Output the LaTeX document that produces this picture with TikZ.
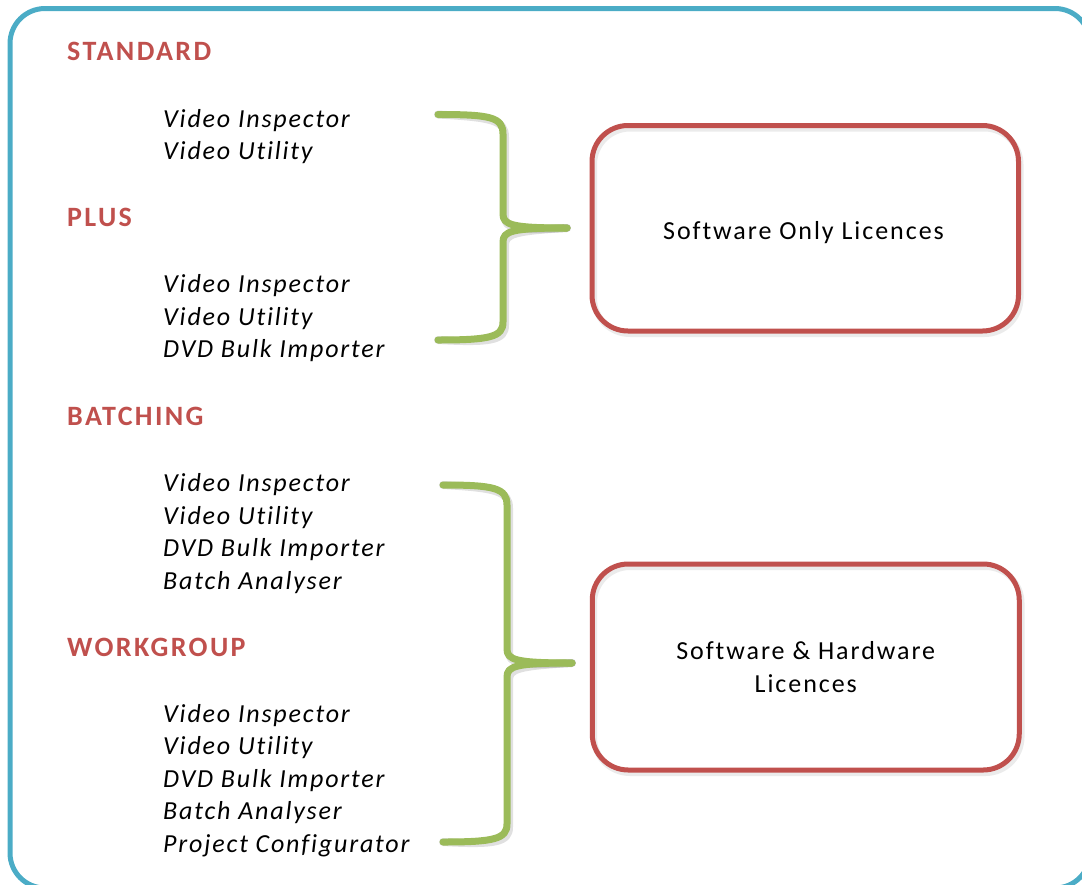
\documentclass[tikz,border=0pt]{standalone}
\usepackage{fontspec}
\setmainfont{Carlito}
\newfontfamily\itemfont[LetterSpace=7,Ligatures=NoCommon]{Carlito}
\newfontfamily\boxfont[LetterSpace=7.5,Ligatures=NoCommon]{Carlito}
\newfontfamily\hdrfont[LetterSpace=8.5,Ligatures=NoCommon]{Carlito}
\definecolor{frameblue}{HTML}{4BACC6}
\definecolor{boxred}{HTML}{C0504D}
\definecolor{bracegreen}{HTML}{9BBB59}
\tikzset{
  hdr/.style={anchor=base west, inner sep=0pt, text=boxred, font=\hdrfont\bfseries\fontsize{28}{34}\selectfont},
  itm/.style={anchor=base west, inner sep=0pt, font=\itemfont\itshape\fontsize{26}{32.5}\selectfont},
  licbox/.style={draw=boxred, line width=5pt, rounded corners=36pt, inner sep=0pt, align=center, font=\boxfont\fontsize{26}{33}\selectfont},
  bracestroke/.style={draw=bracegreen, line width=7pt, line cap=round, line join=round},
  braceshadow/.style={draw=black, opacity=0.12, line width=8pt, line cap=round, line join=round},
  boxshadow/.style={draw=black, opacity=0.08, line width=6pt, rounded corners=36pt}
}
\begin{document}
\begin{tikzpicture}[x=1pt,y=-1pt]
\useasboundingbox (0,0) rectangle (1082,884);
% outer frame
\draw[draw=frameblue, line width=5pt, rounded corners=35pt] (10,8.5) rectangle (1090,888);

% headers and items
\node[hdr] (hstd) at (67,60) {STANDARD};
\node[itm] (s1) at (163,127) {Video Inspector};
\node[itm] (s2) at (163,159.5) {Video Utility};
\node[hdr] (hplus) at (67,226) {PLUS};
\node[itm] (p1) at (163,292.5) {Video Inspector};
\node[itm] (p2) at (163,325) {Video Utility};
\node[itm] (p3) at (163,357.5) {DVD Bulk Importer};
\node[hdr] (hbat) at (67,425) {BATCHING};
\node[itm] (b1) at (163,491.5) {Video Inspector};
\node[itm] (b2) at (163,524) {Video Utility};
\node[itm] (b3) at (163,556.5) {DVD Bulk Importer};
\node[itm] (b4) at (163,589) {Batch Analyser};
\node[hdr] (hwg) at (67,656.5) {WORKGROUP};
\node[itm] (w1) at (163,722) {Video Inspector};
\node[itm] (w2) at (163,754.5) {Video Utility};
\node[itm] (w3) at (163,787) {DVD Bulk Importer};
\node[itm] (w4) at (163,819.5) {Batch Analyser};
\node[itm] (w5) at (163,852) {Project Configurator};

% licence boxes (shadows first)
\draw[boxshadow] (594,128.5) rectangle (1020.5,334);
\draw[boxshadow] (594,567) rectangle (1021.5,773);
\node[licbox, minimum width=426.5pt, minimum height=205.5pt] (soft) at (805.25,228.25) {};
\node[font=\boxfont\fontsize{26}{33}\selectfont, anchor=base, inner sep=0pt] (softlbl) at (803.5,239.5) {Software Only Licences};
\node[licbox, minimum width=427pt, minimum height=206pt] (hard) at (805.75,667) {Software \& Hardware\\Licences};

% brace anchor coordinates
\coordinate (t1) at (438,114.5);
\coordinate (t2) at (438,340);
\coordinate (ttip) at (567,228);
\coordinate (u1) at (443,485);
\coordinate (u2) at (443,842);
\coordinate (utip) at (572,663);

% brace shadows
\begin{scope}[shift={(2,3)}]
\draw[braceshadow] (t1) .. controls (490,114.5) and (503,117) .. (503,134) -- (503,214)
  .. controls (503,225) and (512,228) .. (ttip);
\draw[braceshadow] (ttip) .. controls (512,228) and (503,231) .. (503,242) -- (503,322)
  .. controls (503,337) and (490,340) .. (t2);
\draw[braceshadow] (u1) .. controls (494,485) and (507,488) .. (507,505) -- (507,649)
  .. controls (507,660) and (516,663) .. (utip);
\draw[braceshadow] (utip) .. controls (516,663) and (507,666) .. (507,677) -- (507,824)
  .. controls (507,839) and (494,842) .. (u2);
\end{scope}

% braces
\draw[bracestroke] (t1) .. controls (490,114.5) and (503,117) .. (503,134) -- (503,214)
  .. controls (503,225) and (512,228) .. (ttip);
\draw[bracestroke] (ttip) .. controls (512,228) and (503,231) .. (503,242) -- (503,322)
  .. controls (503,337) and (490,340) .. (t2);
\draw[bracestroke] (u1) .. controls (494,485) and (507,488) .. (507,505) -- (507,649)
  .. controls (507,660) and (516,663) .. (utip);
\draw[bracestroke] (utip) .. controls (516,663) and (507,666) .. (507,677) -- (507,824)
  .. controls (507,839) and (494,842) .. (u2);
\end{tikzpicture}
\end{document}
